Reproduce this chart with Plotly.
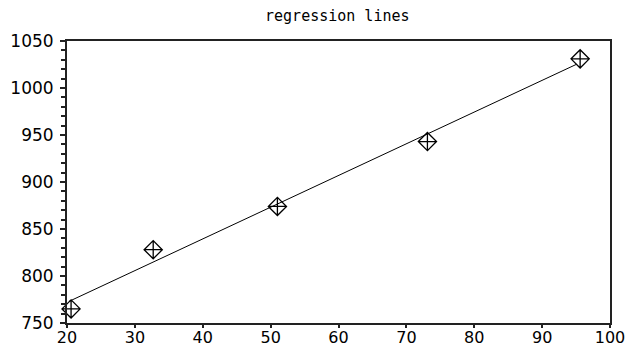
import plotly.graph_objects as go

# data
pts_x = [20.6, 32.7, 51.0, 73.1, 95.6]
pts_y = [765, 828, 874, 943, 1031]
line_x = [20.3, 95.0]
line_y = [773, 1025]

x_ticks = [20, 30, 40, 50, 60, 70, 80, 90, 100]
y_ticks = [750, 800, 850, 900, 950, 1000, 1050]

fig = go.Figure()
fig.add_trace(go.Scatter(x=line_x, y=line_y, mode="lines",
                         line=dict(color="black", width=1),
                         showlegend=False, hoverinfo="skip"))
fig.add_trace(go.Scatter(x=pts_x, y=pts_y, mode="markers",
                         marker=dict(symbol="diamond-cross-open", size=14,
                                     color="black", line=dict(color="black", width=1.3)),
                         cliponaxis=False, showlegend=False))

axis_common = dict(showgrid=False, zeroline=False, showline=True, linecolor="#222",
                   linewidth=2, mirror=True, ticks="outside", tickcolor="#222",
                   automargin=False)

fig.update_layout(
    width=640, height=347,
    margin=dict(l=67, r=30, t=41, b=24),
    paper_bgcolor="white", plot_bgcolor="white",
    title=dict(text="regression lines", x=0.527, xanchor="center", y=0.955, yanchor="middle",
               font=dict(family="DejaVu Sans Mono, monospace", size=15, color="black")),
    xaxis=dict(range=[20, 100], tickvals=x_ticks, ticklen=3, tickwidth=1.5,
               ticklabelstandoff=-4,
               tickfont=dict(family="DejaVu Sans, sans-serif", size=16, color="black"),
               **axis_common),
    yaxis=dict(range=[750, 1050], tickvals=y_ticks, ticklen=5, tickwidth=2,
               ticklabelstandoff=3,
               tickfont=dict(family="DejaVu Sans, sans-serif", size=17, color="black"),
               minor=dict(dtick=10, ticks="outside", ticklen=4, tickcolor="#222", tickwidth=2),
               **axis_common),
)

fig.write_html("out.html")
